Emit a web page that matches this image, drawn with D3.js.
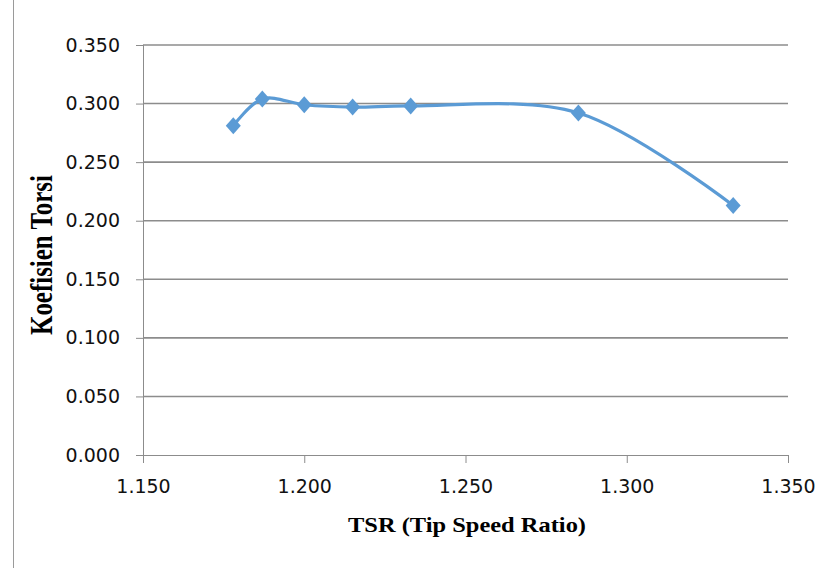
<!DOCTYPE html>
<html>
<head>
<meta charset="utf-8">
<script src="https://cdn.jsdelivr.net/npm/d3@7"></script>
<style>
  body { margin: 0; background: #fff; }
  svg { display: block; }
</style>
</head>
<body>
<svg width="824" height="568"></svg>
<script>
// Data
let tsr = [1.178, 1.187, 1.200, 1.215, 1.233, 1.285, 1.333];
let koefisien = [0.281, 0.304, 0.299, 0.297, 0.298, 0.292, 0.213];
let xTicks = [1.150, 1.200, 1.250, 1.300, 1.350];
let yTicks = [0.000, 0.050, 0.100, 0.150, 0.200, 0.250, 0.300, 0.350];

let margin = { top: 45, right: 36, bottom: 113, left: 143 },
    width = 824 - margin.left - margin.right,
    height = 568 - margin.top - margin.bottom;

let svg = d3.select("svg");

// thin frame line on the left edge of the picture
svg.append("line")
    .attr("x1", 13.5).attr("x2", 13.5)
    .attr("y1", 0).attr("y2", 568)
    .attr("stroke", "#9a9a9a")
    .attr("stroke-width", 1);

let g = svg.append("g").attr("transform", "translate(" + margin.left + "," + margin.top + ")");

let x = d3.scaleLinear().domain([1.150, 1.350]).range([0, width]);
let y = d3.scaleLinear().domain([0, 0.350]).range([height, 0]);

// gridlines
g.append("g")
    .selectAll("line")
    .data(yTicks.slice(1))
    .enter().append("line")
    .attr("x1", 0)
    .attr("x2", width)
    .attr("y1", function (d) { return y(d); })
    .attr("y2", function (d) { return y(d); })
    .attr("stroke", "#8c8c8c")
    .attr("stroke-width", 1.6);

// y axis
let yAxis = g.append("g")
    .call(d3.axisLeft(y).tickValues(yTicks).tickFormat(d3.format(".3f")).tickSize(7).tickPadding(16));
yAxis.select(".domain").attr("stroke", "#8c8c8c").attr("d", "M0.5," + height + "V0");
yAxis.selectAll(".tick line").attr("stroke", "#8c8c8c");
yAxis.selectAll("text")
    .attr("font-family", "DejaVu Sans")
    .attr("font-size", 19)
    .attr("fill", "#111");

// x axis
let xAxis = g.append("g")
    .attr("transform", "translate(0," + height + ")")
    .call(d3.axisBottom(x).tickValues(xTicks).tickFormat(d3.format(".3f")).tickSize(8).tickPadding(17));
xAxis.select(".domain").attr("stroke", "#8c8c8c").attr("d", "M0,0.5H" + width);
xAxis.selectAll(".tick line").attr("stroke", "#8c8c8c");
xAxis.selectAll("text")
    .attr("font-family", "DejaVu Sans")
    .attr("font-size", 19)
    .attr("fill", "#111");

// axis titles
svg.append("text")
    .attr("x", 467)
    .attr("y", 532)
    .attr("text-anchor", "middle")
    .attr("font-family", "Liberation Serif")
    .attr("font-weight", "bold")
    .attr("font-size", 21)
    .attr("textLength", 238)
    .attr("lengthAdjust", "spacingAndGlyphs")
    .attr("fill", "#000")
    .text("TSR (Tip Speed Ratio)");

svg.append("text")
    .attr("transform", "translate(52,255) rotate(-90)")
    .attr("text-anchor", "middle")
    .attr("font-family", "Liberation Serif")
    .attr("font-weight", "bold")
    .attr("font-size", 31)
    .attr("textLength", 160)
    .attr("lengthAdjust", "spacingAndGlyphs")
    .attr("fill", "#000")
    .text("Koefisien Torsi");

// smoothed line
let points = tsr.map(function (d, i) { return [d, koefisien[i]]; });
let line = d3.line()
    .x(function (d) { return x(d[0]); })
    .y(function (d) { return y(d[1]); })
    .curve(d3.curveCatmullRom.alpha(0.5));

g.append("path")
    .datum(points)
    .attr("fill", "none")
    .attr("stroke", "#5b9bd5")
    .attr("stroke-width", 3.2)
    .attr("d", line);

// diamond markers
g.append("g")
    .selectAll("path")
    .data(points)
    .enter().append("path")
    .attr("transform", function (d) { return "translate(" + x(d[0]) + "," + y(d[1]) + ")"; })
    .attr("d", "M0,-8.5L7.5,0L0,8.5L-7.5,0Z")
    .attr("fill", "#5b9bd5");
</script>
</body>
</html>
